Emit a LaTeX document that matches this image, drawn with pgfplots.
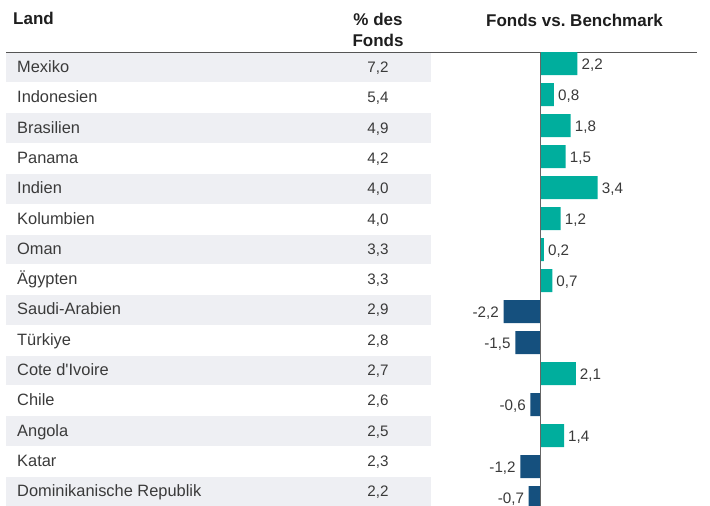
\documentclass[border=0pt]{standalone}
\usepackage{pgfplots}
\usepackage{pgfplotstable}
\pgfplotsset{compat=1.18}
\usepackage{fontspec}
\setmainfont{Liberation Sans}[Ligatures=TeXOff]
\definecolor{teal}{HTML}{00AE9D}
\definecolor{navy}{HTML}{15507E}
\definecolor{band}{HTML}{EEEFF3}
\definecolor{txt}{HTML}{3A3A3A}
\definecolor{hdr}{HTML}{1E1E1E}
\definecolor{rule}{HTML}{555555}

\pgfplotstableread[col sep=semicolon]{
y;name;pct
72.5;Mexiko;7,2
102.8;Indonesien;5,4
133.1;Brasilien;4,9
163.4;Panama;4,2
193.7;Indien;4,0
224.0;Kolumbien;4,0
254.3;Oman;3,3
284.6;Ägypten;3,3
314.9;Saudi-Arabien;2,9
345.2;Türkiye;2,8
375.5;Cote d'Ivoire;2,7
405.8;Chile;2,6
436.1;Angola;2,5
466.4;Katar;2,3
496.7;Dominikanische Republik;2,2
}\tablerows

\pgfplotstableread{
val y
2.2 63.5
0.8 94.5
1.8 125.5
1.5 156.5
3.4 187.5
1.2 218.5
0.2 249.5
0.7 280.5
2.1 373.5
1.4 435.5
}\pos

\pgfplotstableread{
val y
-2.2 311.5
-1.5 342.5
-0.6 404.5
-1.2 466.5
-0.7 497.5
}\negv

\begin{document}
\begin{tikzpicture}
\begin{axis}[
  width=710pt, height=506pt, scale only axis,
  xmin=-32.173, xmax=10.089, ymin=0, ymax=506, y dir=reverse,
  hide axis,
]
% alternating row bands
\foreach \t in {52.8,113.4,174.0,234.6,295.2,355.8,416.4,477.0}{
  \edef\tmp{\noexpand\fill[band] (axis cs:-31.815,\t) rectangle (axis cs:-6.518,\t+29.5);}
  \tmp
}
% header rule
\draw[rule, line width=1pt] (axis cs:-31.815,52) -- (axis cs:9.315,52);
% headers
\node[anchor=base west, font=\fontsize{17}{20}\selectfont\bfseries, text=hdr, inner sep=0pt] at (axis cs:-31.399,24) {Land};
\node[anchor=base, font=\fontsize{17}{20}\selectfont\bfseries, text=hdr, inner sep=0pt] at (axis cs:-9.673,25) {\% des};
\node[anchor=base, font=\fontsize{17}{20}\selectfont\bfseries, text=hdr, inner sep=0pt] at (axis cs:-9.673,46.5) {Fonds};
\node[anchor=base, font=\fontsize{17}{20}\selectfont\bfseries, text=hdr, inner sep=0pt] at (axis cs:2.024,26.5) {Fonds vs.\ Benchmark};
% country names
\addplot[only marks, mark=none, point meta=explicit symbolic,
  nodes near coords,
  every node near coord/.append style={anchor=base west, inner sep=0pt, text=txt, font=\fontsize{16.4}{19}\selectfont}]
  table[x expr=-31.161, y=y, meta=name] {\tablerows};
% percentages
\addplot[only marks, mark=none, point meta=explicit symbolic,
  nodes near coords,
  every node near coord/.append style={anchor=base, inner sep=0pt, text=txt, font=\fontsize{15.2}{18}\selectfont}]
  table[x expr=-9.673, y=y, meta=pct] {\tablerows};
% bars
\addplot[xbar, bar width=23pt, bar shift=0pt, fill=teal, draw=none,
  point meta=x, nodes near coords={\pgfmathprintnumber[fixed, fixed zerofill, precision=1, use comma, assume math mode=true]{\pgfplotspointmeta}},
  every node near coord/.append style={anchor=base west, inner sep=4pt, yshift=-6pt, text=txt, font=\fontsize{15.2}{18}\selectfont}]
  table[x=val, y=y] {\pos};
\addplot[xbar, bar width=23pt, bar shift=0pt, fill=navy, draw=none,
  point meta=x, nodes near coords={\pgfmathprintnumber[fixed, fixed zerofill, precision=1, use comma, assume math mode=true]{\pgfplotspointmeta}},
  every node near coord/.append style={anchor=base east, inner sep=4.5pt, yshift=-6pt, text=txt, font=\fontsize{15.2}{18}\selectfont}]
  table[x=val, y=y] {\negv};
% zero line
\draw[color=black!60, line width=1.1pt] (axis cs:0,52) -- (axis cs:0,506);
\end{axis}
\pgfresetboundingbox
\path[use as bounding box] (current axis.south west) rectangle (current axis.north east);
\end{tikzpicture}
\end{document}
